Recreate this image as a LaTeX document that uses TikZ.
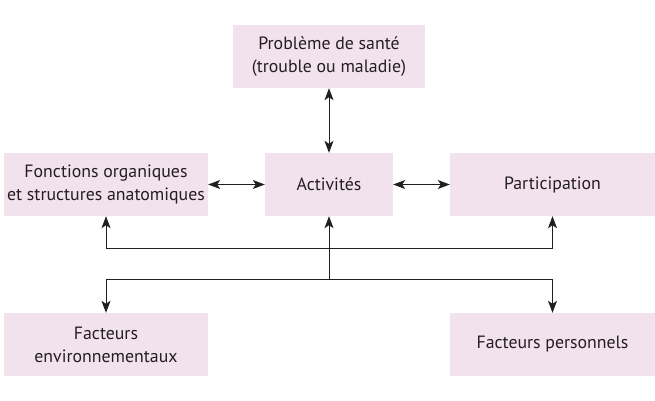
\documentclass[tikz,border=0pt]{standalone}
\usepackage{fontspec}
\setmainfont{PT Sans}
\usetikzlibrary{arrows.meta}
\definecolor{boxpink}{RGB}{242,226,238}
\definecolor{inkc}{RGB}{35,31,32}
\begin{document}
\begin{tikzpicture}[x=1pt,y=-1pt,
  box/.style={fill=boxpink,draw=none,minimum height=63pt,align=center,inner sep=0pt,
    font=\fontsize{17.8}{23}\selectfont,text=inkc},
  tip/.style={Stealth[length=12pt,width=9pt,inset=3pt]},
  conn/.style={draw=inkc,line width=1pt,{Stealth[length=12pt,width=9pt,inset=3pt]}-{Stealth[length=12pt,width=9pt,inset=3pt]}},
  conn1/.style={draw=inkc,line width=1pt,-{Stealth[length=12pt,width=9pt,inset=3pt]}}]
\useasboundingbox (0,0) rectangle (655,400);
\node[box,minimum width=192pt] (top) at (329,56.5) {Problème de santé\\(trouble ou maladie)};
\node[box,minimum width=204pt] (left) at (106,184.5) {Fonctions organiques\\et structures anatomiques};
\node[box,minimum width=128pt] (act) at (329,184.5) {Activités};
\node[box,minimum width=205pt] (part) at (552.5,184.5) {Participation};
\node[box,minimum width=204pt] (envi) at (106,344.5) {Facteurs\\environnementaux};
\node[box,minimum width=205pt] (pers) at (552.5,344.5) {Facteurs personnels};
\coordinate (h1) at (329,248);
\coordinate (h2) at (329,279);
\draw[conn] (top) -- (act);
\draw[conn] (left) -- (act);
\draw[conn] (act) -- (part);
\draw[conn] (left.south) -- (left.south |- h1) -- (part.south |- h1) -- (part.south);
\draw[conn] (envi.north) -- (envi.north |- h2) -- (pers.north |- h2) -- (pers.north);
\draw[conn1] (h2) -- (act.south);
\end{tikzpicture}
\end{document}
